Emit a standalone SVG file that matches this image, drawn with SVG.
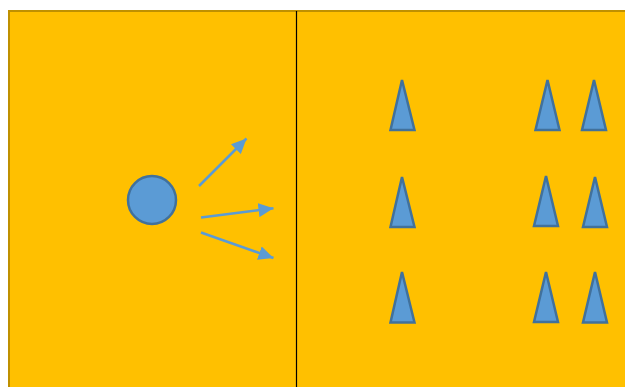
<svg xmlns="http://www.w3.org/2000/svg" width="625" height="387" viewBox="0 0 625 387">
<defs>
<style>
.tri{fill:#5b9bd5;stroke:#41719c;stroke-width:2.5;stroke-linejoin:miter}
.arr{stroke:#5b9bd5;stroke-width:2.5;fill:none}
</style>
<marker id="ah" markerUnits="userSpaceOnUse" markerWidth="16" markerHeight="14" refX="15" refY="7" orient="auto">
<path d="M0,0 L15,7 L0,14 Z" fill="#5b9bd5"/>
</marker>
</defs>
<rect width="625" height="387" fill="#ffffff"/>
<g id="field">
<rect x="9" y="11" width="630" height="390" fill="#ffc000" stroke="#bf9000" stroke-width="2"/>
<line x1="296.5" y1="11" x2="296.5" y2="387" stroke="#000" stroke-width="1.2"/>
</g>
<g id="ball">
<circle cx="152" cy="200" r="24" fill="#5b9bd5" stroke="#41719c" stroke-width="2.5"/>
</g>
<g id="t1"><polygon class="tri" points="402,80 390.5,130 414.5,130"/></g>
<g id="t2"><polygon class="tri" points="547.5,80 535.5,130 559.5,130"/></g>
<g id="t3"><polygon class="tri" points="594,80 582,130 606,130"/></g>
<g id="t4"><polygon class="tri" points="402,177 390.5,227 414.5,227"/></g>
<g id="t5"><polygon class="tri" points="546,176 534,226 558,226"/></g>
<g id="t6"><polygon class="tri" points="595,177 583,227 607,227"/></g>
<g id="t7"><polygon class="tri" points="402,272 390.5,322.5 414.5,322.5"/></g>
<g id="t8"><polygon class="tri" points="546,272 534,322 558,322"/></g>
<g id="t9"><polygon class="tri" points="595,272 583,322.5 607,322.5"/></g>
<g id="connectors">
<line class="arr" x1="199" y1="186" x2="246.5" y2="138.5" marker-end="url(#ah)"/>
<line class="arr" x1="201" y1="217.5" x2="273.5" y2="208.3" marker-end="url(#ah)"/>
<line class="arr" x1="201" y1="232.5" x2="273.5" y2="258" marker-end="url(#ah)"/>
</g>
</svg>
